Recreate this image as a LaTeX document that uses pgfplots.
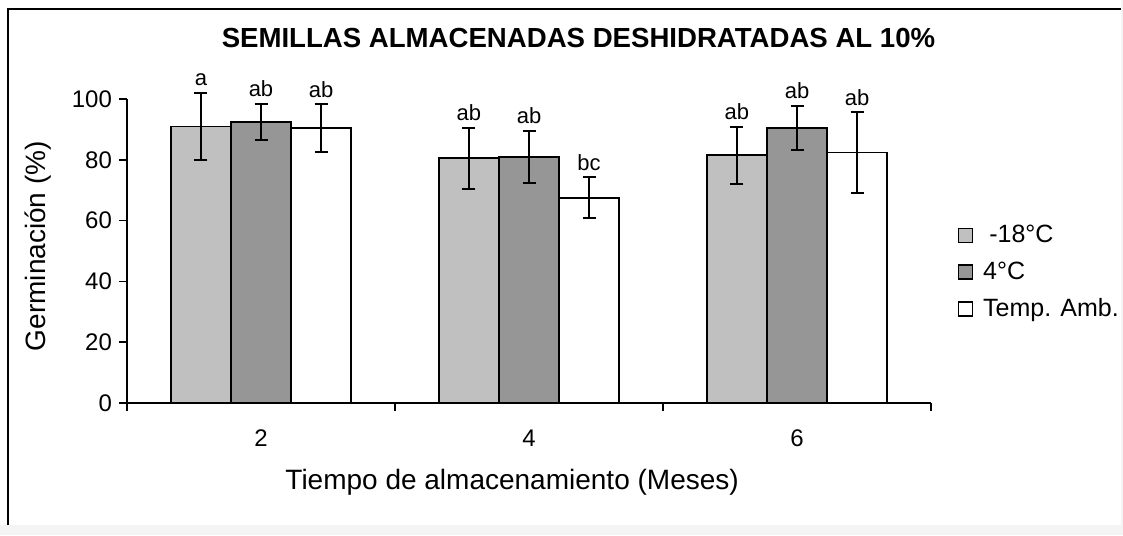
\documentclass[border=0pt]{standalone}
\usepackage{fontspec}
\setmainfont{Liberation Sans}
\usepackage{pgfplots}
\pgfplotsset{compat=1.18}
\definecolor{lgray}{RGB}{192,192,192}
\definecolor{dgray}{RGB}{150,150,150}
\definecolor{bggray}{RGB}{244,244,244}

\begin{document}
\begin{tikzpicture}[x=0.5pt,y=0.5pt]
\useasboundingbox (0,0) rectangle (1123,535);
\fill[bggray] (0,0) rectangle (1123,10);
\fill[bggray] (1121,0) rectangle (1123,535);
\draw[line width=1pt] (8,10) -- (8,526) -- (1121,526);
\begin{axis}[
  at={(63.5pt,66pt)}, anchor=south west,
  scale only axis, width=402pt, height=152pt,
  xmin=-0.5, xmax=2.5, ymin=0, ymax=100,
  clip=false,
  axis lines=left,
  axis line style={-, line width=0.8pt, black},
  tick align=outside,
  major tick length=4pt,
  tick style={line width=0.8pt, black},
  xtick={-0.5,0.5,1.5,2.5},
  xticklabels={2,4,6,{}},
  x tick label style={xshift=67pt, yshift=-6pt, font=\fontsize{12}{14}\selectfont},
  ytick={0,20,40,60,80,100},
  y tick label style={font=\fontsize{12}{14}\selectfont},
  /pgf/number format/assume math mode=true,
  title={SEMILLAS ALMACENADAS DESHIDRATADAS AL 10\%},
  title style={at={(axis description cs:0.5616,1.131)}, anchor=base, font=\bfseries\fontsize{13.8}{16}\selectfont},
  xlabel={Tiempo de almacenamiento (Meses)},
  every axis x label/.style={at={(axis description cs:0.479,-0.262)}, anchor=center, font=\fontsize{14}{16}\selectfont},
  ylabel={Germinación (\%)},
  every axis y label/.style={at={(axis description cs:-0.1107,0.516)}, anchor=center, rotate=90, font=\fontsize{14}{16}\selectfont},
  legend style={at={(axis description cs:1.025,0.43)}, anchor=west, draw=none, fill=none,
    font=\fontsize{12.5}{14}\selectfont, row sep=4pt,
    /tikz/every odd column/.append style={column sep=3pt}},
  legend cell align=left,
  error bars/error bar style={line width=1pt, black},
  error bars/error mark options={rotate=90, mark size=3.25pt, line width=1pt, black},
]
\addplot[ybar, bar width=0.224, bar shift=0, fill=lgray, draw=black, line width=0.8pt,
  legend image code/.code={\draw[fill=lgray, draw=black, line width=0.8pt] (0pt,-3.5pt) rectangle (7pt,3.5pt);},
  error bars/.cd, y dir=both, y explicit]
  coordinates {(-0.224,91) +- (0,11) (0.776,80.5) +- (0,10) (1.776,81.5) +- (0,9.3)};
\addlegendentry{\hspace{0.25em}-18°C}
\addplot[ybar, bar width=0.224, bar shift=0, fill=dgray, draw=black, line width=0.8pt,
  legend image code/.code={\draw[fill=dgray, draw=black, line width=0.8pt] (0pt,-3.5pt) rectangle (7pt,3.5pt);},
  error bars/.cd, y dir=both, y explicit]
  coordinates {(0,92.5) +- (0,6) (1,81) +- (0,8.6) (2,90.5) +- (0,7.2)};
\addlegendentry{4°C}
\addplot[ybar, bar width=0.224, bar shift=0, fill=white, draw=black, line width=0.8pt,
  legend image code/.code={\draw[fill=white, draw=black, line width=0.8pt] (0pt,-3.5pt) rectangle (7pt,3.5pt);},
  error bars/.cd, y dir=both, y explicit]
  coordinates {(0.224,90.5) +- (0,7.8) (1.224,67.5) +- (0,6.8) (2.224,82.4) +- (0,13.2)};
\addlegendentry{Temp. Amb.}
\addplot[only marks, mark=none, forget plot, nodes near coords, point meta=explicit symbolic,
  nodes near coords style={anchor=base, yshift=3.5pt, inner sep=0pt, font=\fontsize{11}{13}\selectfont}]
  coordinates {(-0.224,102) [a] (0,98.5) [ab] (0.224,98.3) [ab]
               (0.776,90.5) [ab] (1,89.6) [ab] (1.224,74.3) [bc]
               (1.776,90.8) [ab] (2,97.7) [ab] (2.224,95.6) [ab]};
\end{axis}
\end{tikzpicture}
\end{document}
